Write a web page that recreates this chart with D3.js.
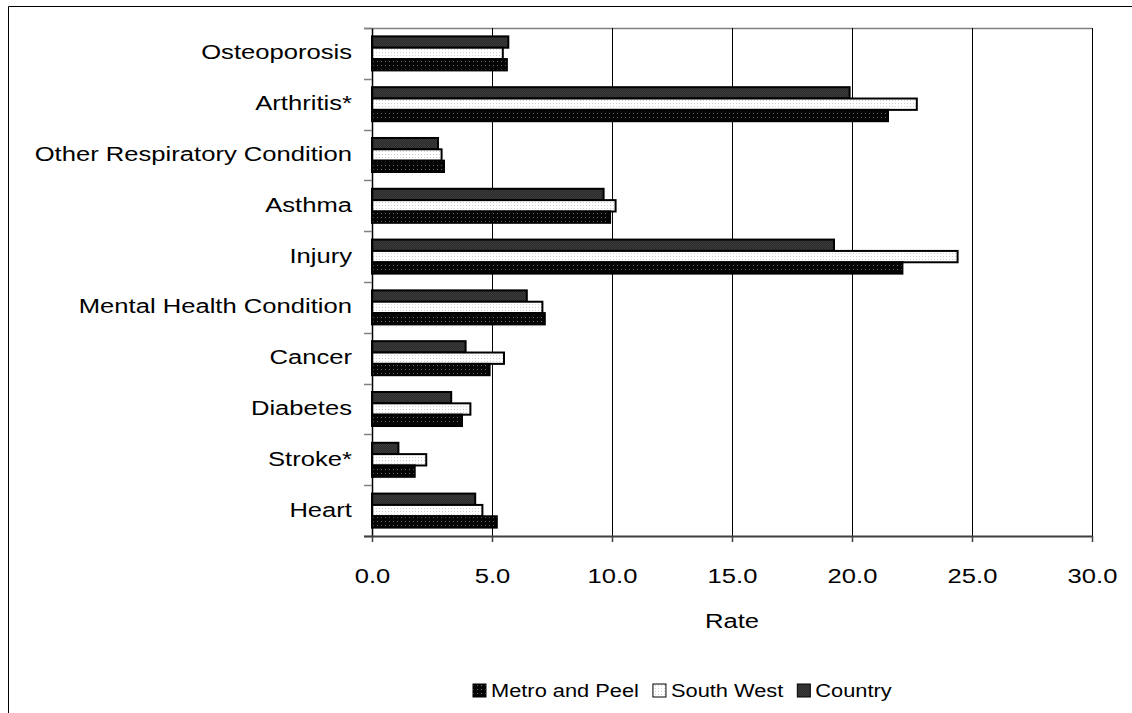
<!DOCTYPE html>
<html><head><meta charset="utf-8">
<script src="https://cdn.jsdelivr.net/npm/d3@7"></script>
<style>body{margin:0;background:#fff}svg{display:block}</style>
</head><body><svg id="c" width="1132" height="713"></svg>
<script>
const categories = ["Osteoporosis","Arthritis*","Other Respiratory Condition","Asthma","Injury","Mental Health Condition","Cancer","Diabetes","Stroke*","Heart"];
const seriesNames = ["Metro and Peel","South West","Country"];
const metroPeel = [5.62,21.5,3.0,9.92,22.1,7.2,4.9,3.75,1.78,5.2];
const southWest = [5.45,22.7,2.9,10.15,24.4,7.1,5.5,4.1,2.26,4.6];
const country   = [5.68,19.9,2.75,9.65,19.25,6.45,3.9,3.3,1.1,4.3];
const xTicks = [0,5,10,15,20,25,30];
const xTickLabels = ["0.0","5.0","10.0","15.0","20.0","25.0","30.0"];
const xTitle = "Rate";

const seriesValues = {"Metro and Peel": metroPeel, "South West": southWest, "Country": country};
const fills = {"Metro and Peel":"url(#pMetro)","South West":"url(#pSW)","Country":"url(#pCountry)"};
const stackOrder = ["Country","South West","Metro and Peel"]; // top to bottom within a group

const svg = d3.select("#c");
const FONT = "'Liberation Sans', Arial, sans-serif";
const SX = 1.22;

// patterns
const defs = svg.append("defs");
let p = defs.append("pattern").attr("id","pMetro").attr("patternUnits","userSpaceOnUse").attr("width",4).attr("height",4);
p.append("rect").attr("width",4).attr("height",4).attr("fill","#050505");
p.append("rect").attr("x",1).attr("y",1).attr("width",1).attr("height",1).attr("fill","#6a6a6a");
p = defs.append("pattern").attr("id","pSW").attr("patternUnits","userSpaceOnUse").attr("width",3).attr("height",3);
p.append("rect").attr("width",3).attr("height",3).attr("fill","#ffffff");
p.append("rect").attr("x",1).attr("y",1).attr("width",1).attr("height",1).attr("fill","#d0d0d0");
p = defs.append("pattern").attr("id","pCountry").attr("patternUnits","userSpaceOnUse").attr("width",2).attr("height",2);
p.append("rect").attr("width",2).attr("height",2).attr("fill","#2a2a2a");
p.append("rect").attr("width",1).attr("height",1).attr("fill","#3c3c3c");
p.append("rect").attr("x",1).attr("y",1).attr("width",1).attr("height",1).attr("fill","#3c3c3c");

// outer border
svg.append("path").attr("d","M8.5,720 L8.5,6.5 L1140,6.5").attr("fill","none").attr("stroke","#000").attr("stroke-width",1);

const L = 372, R = 1092, T = 28, B = 536;
const x = d3.scaleLinear().domain([0,30]).range([L,R]);
const y0 = d3.scaleBand().domain(categories).range([T,B]);
const y1 = d3.scaleBand().domain(stackOrder).range([y0.bandwidth()*0.165, y0.bandwidth()*(1-0.165)]);

// top line
svg.append("line").attr("x1",364).attr("x2",R).attr("y1",T+0.5).attr("y2",T+0.5).attr("stroke","#808080").attr("stroke-width",1.5);

// gridlines
svg.append("g").selectAll("line").data(xTicks.filter(d=>d>0)).join("line")
  .attr("x1",d=>Math.round(x(d))+0.5).attr("x2",d=>Math.round(x(d))+0.5)
  .attr("y1",T).attr("y2",B).attr("stroke","#000").attr("stroke-width",1);

// bars
const g = svg.append("g");
categories.forEach((c,i)=>{
  stackOrder.forEach(s=>{
    const v = seriesValues[s][i];
    g.append("rect")
      .attr("x", x(0)).attr("y", y0(c)+y1(s))
      .attr("width", x(v)-x(0)).attr("height", y1.bandwidth())
      .attr("fill", fills[s]).attr("stroke","#000").attr("stroke-width",2);
  });
});

// y axis
const yAxis = d3.axisLeft(y0).tickSize(0).tickFormat("");
const ya = svg.append("g").attr("transform",`translate(${L},0)`).call(yAxis);
ya.select(".domain").attr("stroke","#000").attr("stroke-width",1.5);
// category boundary ticks
const bounds = d3.range(categories.length+1).map(i=>T + i*y0.step());
svg.append("g").selectAll("line").data(bounds).join("line")
  .attr("x1",364).attr("x2",L).attr("y1",d=>Math.round(d)+0.5).attr("y2",d=>Math.round(d)+0.5)
  .attr("stroke","#808080").attr("stroke-width",1.5);
// category labels
svg.append("g").selectAll("text").data(categories).join("text")
  .attr("transform",d=>`translate(352,${y0(d)+y0.bandwidth()/2+6}) scale(${SX},1)`)
  .attr("text-anchor","end").attr("font-family",FONT).attr("font-size",21).attr("fill","#000")
  .text(d=>d);

// x axis
const xAxis = d3.axisBottom(x).tickValues(xTicks).tickSize(6).tickFormat((d,i)=>xTickLabels[i]);
const xa = svg.append("g").attr("transform",`translate(0,${B})`).call(xAxis);
xa.select(".domain").attr("stroke","#404040").attr("stroke-width",2).attr("d",`M364,0.5H${R}`);
xa.selectAll(".tick line").attr("stroke","#404040").attr("stroke-width",1.5);
xa.selectAll(".tick text").each(function(){
  const t = d3.select(this);
  t.attr("y",null).attr("dy",null).attr("transform",`translate(0,47) scale(${SX},1)`);
}).attr("font-family",FONT).attr("font-size",21).attr("fill","#000");

// axis title
svg.append("text").attr("transform",`translate(${(L+R)/2},628) scale(${SX},1)`)
  .attr("text-anchor","middle").attr("font-family",FONT).attr("font-size",21).text(xTitle);

// legend
const lg = svg.append("g");
let lx = 473;
const LS = 1.18;
seriesNames.forEach(s=>{
  lg.append("rect").attr("x",lx).attr("y",684).attr("width",13).attr("height",13)
    .attr("fill",fills[s]).attr("stroke","#000").attr("stroke-width",1);
  const t = lg.append("text").attr("transform",`translate(${lx+18},697) scale(${LS},1)`)
    .attr("font-family",FONT).attr("font-size",18.5).text(s);
  lx += 18 + t.node().getComputedTextLength()*LS + 14;
});
</script></body></html>
